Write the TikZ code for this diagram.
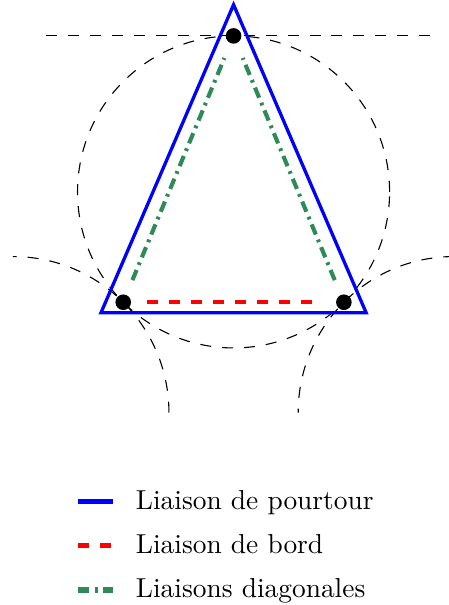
\documentclass[tikz,border=0pt]{standalone}
\usepackage{xcolor}
\usepackage{tikz}
\usetikzlibrary{positioning, calc}
\definecolor{diaggreen}{RGB}{46,139,87}

\begin{document}
\begin{tikzpicture}[
  guide/.style={draw=black, line width=0.4pt, dash pattern=on 4pt off 4pt},
  pourtour/.style={draw=blue, line width=1.2pt},
  bord/.style={draw=red, line width=1.5pt, dash pattern=on 4pt off 4pt},
  diag/.style={draw=diaggreen, line width=1.5pt, dash pattern=on 4pt off 2pt on 1pt off 2pt},
  atom/.style={circle, fill=black, inner sep=0pt, minimum size=0.2cm},
  legend/.style={text height=1.5ex, text depth=.25ex, font=\normalsize}
]
  \useasboundingbox (-2.994,-5.295) rectangle (2.75,2.46);

  \coordinate (centre) at (0,0);
  \coordinate (voisinG) at (225:4);
  \coordinate (voisinD) at (315:4);
  \coordinate (tanG) at (-2.4,2);
  \coordinate (tanD) at (2.6,2);

  \draw[guide] (centre) circle[radius=2];
  \draw[guide] (voisinG) ++(0:2) arc[start angle=0, end angle=90, radius=2];
  \draw[guide] (voisinD) ++(90:2) arc[start angle=90, end angle=180, radius=2];
  \draw[guide] (tanG) -- (tanD);

  \coordinate (sommet) at (0,2.4);
  \coordinate (baseG) at (-1.7,-1.55);
  \coordinate (baseD) at (1.7,-1.55);
  \draw[pourtour] (sommet) -- (baseG) -- (baseD) -- cycle;

  \node[atom] (haut) at (90:2) {};
  \node[atom] (gauche) at (225:2) {};
  \node[atom] (droite) at (315:2) {};

  \draw[bord, shorten <=0.2cm, shorten >=0.2cm] (gauche) -- (droite);
  \draw[diag, shorten <=0.2cm, shorten >=0.2cm] (gauche) -- (haut);
  \draw[diag, shorten <=0.2cm, shorten >=0.2cm] (droite) -- (haut);

  \coordinate (legPourtourA) at (-1.99,-3.97);
  \coordinate[right=0.445cm of legPourtourA] (legPourtourB);
  \coordinate[below=0.565cm of legPourtourA] (legBordA);
  \coordinate[right=0.445cm of legBordA] (legBordB);
  \coordinate[below=0.565cm of legBordA] (legDiagA);
  \coordinate[right=0.445cm of legDiagA] (legDiagB);

  \draw[pourtour, line width=2pt] (legPourtourA) -- (legPourtourB);
  \draw[bord, line width=2pt] (legBordA) -- (legBordB);
  \draw[diag, line width=2pt] (legDiagA) -- (legDiagB);

  \node[legend, right=0.17cm of legPourtourB] (pourtour) {Liaison de pourtour};
  \node[legend, right=0.17cm of legBordB] (bord) {Liaison de bord};
  \node[legend, right=0.17cm of legDiagB] (diag) {Liaisons diagonales};
\end{tikzpicture}
\end{document}
